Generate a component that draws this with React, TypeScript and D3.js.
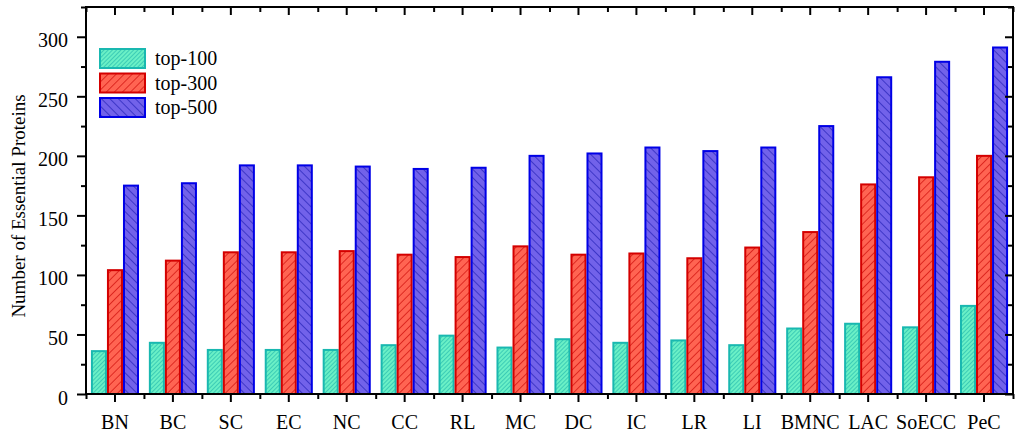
import * as d3 from "d3";
import { useEffect, useRef } from "react";

const categories = ["BN", "BC", "SC", "EC", "NC", "CC", "RL", "MC", "DC", "IC", "LR", "LI", "BMNC", "LAC", "SoECC", "PeC"];
const seriesNames = ["top-100", "top-300", "top-500"];
const top100 = [36, 43, 37, 37, 37, 41, 49, 39, 46, 43, 45, 41, 55, 59, 56, 74];
const top300 = [104, 112, 119, 119, 120, 117, 115, 124, 117, 118, 114, 123, 136, 176, 182, 200];
const top500 = [175, 177, 192, 192, 191, 189, 190, 200, 202, 207, 204, 207, 225, 266, 279, 291];
const yTicks = [0, 50, 100, 150, 200, 250, 300];

const styles = [
  { id: "hatch100", fill: "#6af0c6", line: "#1cb4ac", stroke: "#19b8b0", gap: 3, angle: 45 },
  { id: "hatch300", fill: "#ff6452", line: "#c80000", stroke: "#d40000", gap: 5.7, angle: 45 },
  { id: "hatch500", fill: "#7262ea", line: "#1818b0", stroke: "#0000e6", gap: 6, angle: -45 },
];

export default function App() {
  const ref = useRef<SVGSVGElement>(null);
  const width = 1017;
  const height = 436;
  const left = 86;
  const right = 1013;
  const top = 7;
  const bottom = 394;

  useEffect(() => {
    const svg = d3.select(ref.current);
    svg.selectAll("*").remove();
    const font = "'Liberation Serif', 'Times New Roman', serif";

    const data = categories.map((c, i) => ({ cat: c, values: [top100[i], top300[i], top500[i]] }));

    const x = d3.scaleBand().domain(categories).range([left, right]).paddingInner(0.17).paddingOuter(0.085);
    const xSub = d3.scaleBand().domain(seriesNames).range([0, x.bandwidth()]);
    const xEdge = d3.scaleLinear().domain([0, categories.length]).range([left, right]);
    const y = d3.scaleLinear().domain([0, 325]).range([bottom, top]);

    const defs = svg.append("defs");
    styles.forEach((s) => {
      const p = defs
        .append("pattern")
        .attr("id", s.id)
        .attr("patternUnits", "userSpaceOnUse")
        .attr("width", s.gap)
        .attr("height", s.gap)
        .attr("patternTransform", `rotate(${s.angle})`);
      p.append("rect").attr("width", s.gap).attr("height", s.gap).attr("fill", s.fill);
      p.append("line").attr("x1", 0).attr("y1", 0).attr("x2", 0).attr("y2", s.gap).attr("stroke", s.line).attr("stroke-width", 1.2);
    });

    // bars
    const groups = svg
      .append("g")
      .selectAll("g")
      .data(data)
      .join("g")
      .attr("transform", (d) => `translate(${x(d.cat)},0)`);
    groups
      .selectAll("rect")
      .data((d) => d.values.map((v, k) => ({ v, k })))
      .join("rect")
      .attr("x", (d) => xSub(seriesNames[d.k])! + 1)
      .attr("width", xSub.bandwidth() - 2)
      .attr("y", (d) => y(d.v))
      .attr("height", (d) => y(0) - y(d.v))
      .attr("fill", (d) => `url(#${styles[d.k].id})`)
      .attr("stroke", (d) => styles[d.k].stroke)
      .attr("stroke-width", 2);

    // frame
    svg
      .append("rect")
      .attr("x", left)
      .attr("y", top)
      .attr("width", right - left)
      .attr("height", bottom - top)
      .attr("fill", "none")
      .attr("stroke", "#000")
      .attr("stroke-width", 2);

    const styleAxis = (g: any) => {
      g.select(".domain").remove();
      g.selectAll("line").attr("stroke", "#000").attr("stroke-width", 2);
      g.selectAll("text").attr("font-family", font).attr("font-size", 20).attr("fill", "#000");
    };

    // bottom axis
    svg
      .append("g")
      .attr("transform", `translate(0,${bottom})`)
      .call(d3.axisBottom(x).tickSize(8).tickPadding(13).tickSizeOuter(0))
      .call(styleAxis);
    svg
      .append("g")
      .attr("transform", `translate(0,${bottom})`)
      .call(d3.axisBottom(xEdge).tickValues(d3.range(0, categories.length + 1)).tickSize(5).tickFormat(() => ""))
      .call(styleAxis);
    // top axis (inward)
    svg
      .append("g")
      .attr("transform", `translate(0,${top})`)
      .call(d3.axisTop(x).tickSize(-8).tickFormat(() => ""))
      .call(styleAxis);
    svg
      .append("g")
      .attr("transform", `translate(0,${top})`)
      .call(d3.axisTop(xEdge).tickValues(d3.range(0, categories.length + 1)).tickSize(-5).tickFormat(() => ""))
      .call(styleAxis);

    // left axis
    svg
      .append("g")
      .attr("transform", `translate(${left},0)`)
      .call(d3.axisLeft(y).tickValues(yTicks).tickSize(9).tickPadding(9))
      .call(styleAxis)
      .call((g: any) => g.selectAll("text").attr("dy", "0.5em"));
    svg
      .append("g")
      .attr("transform", `translate(${left},0)`)
      .call(d3.axisLeft(y).tickValues(yTicks.map((t) => t + 25)).tickSize(5).tickFormat(() => ""))
      .call(styleAxis);
    // right axis (inward)
    svg
      .append("g")
      .attr("transform", `translate(${right},0)`)
      .call(d3.axisRight(y).tickValues(yTicks).tickSize(-8).tickFormat(() => ""))
      .call(styleAxis);
    svg
      .append("g")
      .attr("transform", `translate(${right},0)`)
      .call(d3.axisRight(y).tickValues(yTicks.map((t) => t + 25)).tickSize(-5).tickFormat(() => ""))
      .call(styleAxis);

    // y label
    svg
      .append("text")
      .attr("transform", `translate(25,206) rotate(-90)`)
      .attr("text-anchor", "middle")
      .attr("font-family", font)
      .attr("font-size", 19)
      .text("Number of Essential Proteins");

    // legend
    const legend = svg
      .append("g")
      .selectAll("g")
      .data(seriesNames)
      .join("g")
      .attr("transform", (_d, i) => `translate(100,${49 + i * 24.5})`);
    legend
      .append("rect")
      .attr("width", 45)
      .attr("height", 19)
      .attr("fill", (_d, i) => `url(#${styles[i].id})`)
      .attr("stroke", (_d, i) => styles[i].stroke)
      .attr("stroke-width", 2);
    legend
      .append("text")
      .attr("x", 55)
      .attr("y", 16)
      .attr("font-family", font)
      .attr("font-size", 20)
      .text((d) => d);
  }, []);

  return (
    <svg
      ref={ref}
      width={width}
      height={height}
      style={{ position: "absolute", left: 0, top: 0, background: "#fff" }}
    />
  );
}
